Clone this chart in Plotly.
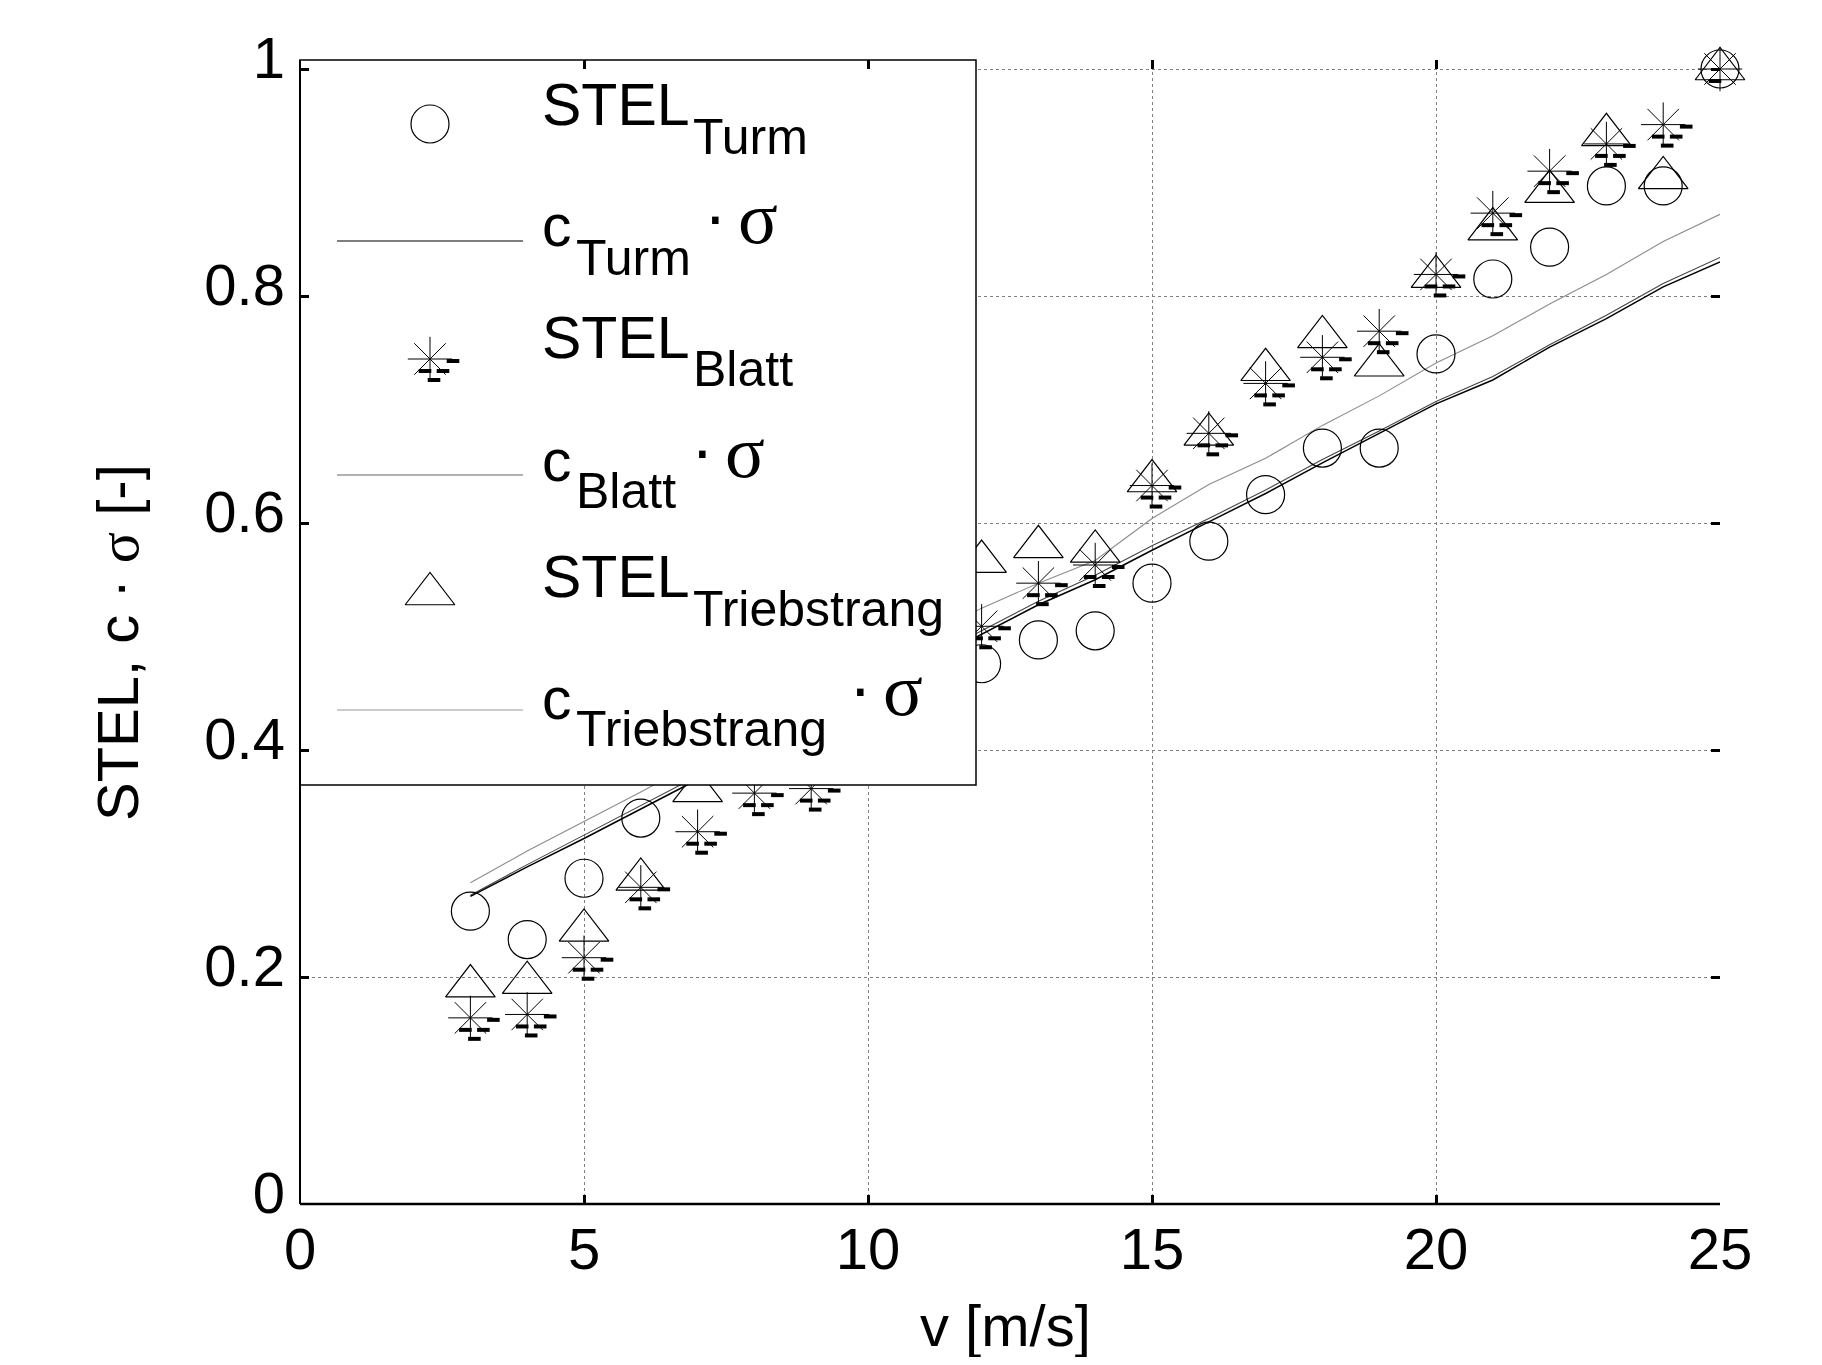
import plotly.graph_objects as go

# ---------------- data ----------------
v = [3, 4, 5, 6, 7, 8, 9, 10, 11, 12, 13, 14, 15, 16, 17, 18, 19, 20, 21, 22, 23, 24, 25]

stel_turm = [0.258, 0.233, 0.287, 0.340, 0.39, 0.41, 0.43, 0.45, 0.46, 0.476, 0.497, 0.505,
             0.547, 0.584, 0.625, 0.666, 0.666, 0.749, 0.815, 0.843, 0.897, 0.897, 1.0]
stel_blatt = [0.164, 0.167, 0.217, 0.279, 0.328, 0.362, 0.366, 0.43, 0.47, 0.509, 0.547, 0.563,
              0.633, 0.679, 0.723, 0.746, 0.769, 0.819, 0.873, 0.910, 0.934, 0.951, 1.0]
stel_trieb = [0.192, 0.195, 0.241, 0.286, 0.364, 0.40, 0.42, 0.47, 0.52, 0.566, 0.579, 0.575,
              0.637, 0.678, 0.735, 0.764, 0.739, 0.817, 0.859, 0.892, 0.942, 0.904, 1.0]

c_turm = [0.271, 0.297, 0.322, 0.348, 0.374, 0.399, 0.424, 0.450, 0.476, 0.502, 0.528, 0.550,
          0.576, 0.601, 0.626, 0.653, 0.679, 0.705, 0.726, 0.755, 0.780, 0.808, 0.830]
c_blatt = [0.272, 0.299, 0.325, 0.351, 0.377, 0.402, 0.427, 0.453, 0.479, 0.505, 0.531, 0.554,
           0.580, 0.604, 0.629, 0.656, 0.681, 0.707, 0.729, 0.757, 0.783, 0.811, 0.834]
c_trieb = [0.283, 0.311, 0.337, 0.363, 0.390, 0.417, 0.444, 0.471, 0.498, 0.525, 0.547, 0.567,
           0.604, 0.634, 0.657, 0.686, 0.712, 0.741, 0.765, 0.793, 0.819, 0.848, 0.872]

x_ticks = [0, 5, 10, 15, 20, 25]
y_ticks = [0, 0.2, 0.4, 0.6, 0.8, 1]
y_ticktext = ["0", "0.2", "0.4", "0.6", "0.8", "1"]

# ---------------- layout geometry (page pixel coordinates) ----------------
W, H = 1822, 1365
BODY = 8                      # default page body margin of the html file
FW, FH = W - 2 * BODY, H - 2 * BODY
PL, PR, PT, PB = 300, 1720, 60, 1204
PX_PER_Y = 1135.0
Y_TOP = (PB - PT) / PX_PER_Y
X_MAX = 25.0
FONT = "Liberation Sans"
SERIF = "Liberation Serif"


def fx(xp):
    return (xp - PL) / (PR - PL)


def fy(yp):
    return (PB - yp) / (PB - PT)


# pixel offsets of the small black dashes drawn next to each asterisk marker
DASH_OFFSETS = [(23, 2), (-5, 12), (13, 12), (4, 21)]

fig = go.Figure()

# model lines
fig.add_trace(go.Scatter(x=v, y=c_trieb, mode="lines", line=dict(color="#8c8c8c", width=1.1), hoverinfo="skip"))
fig.add_trace(go.Scatter(x=v, y=c_blatt, mode="lines", line=dict(color="#444444", width=1.1), hoverinfo="skip"))
fig.add_trace(go.Scatter(x=v, y=c_turm, mode="lines", line=dict(color="#000000", width=1.5), hoverinfo="skip"))

# markers
fig.add_trace(go.Scatter(x=v, y=stel_turm, mode="markers", cliponaxis=False,
                         marker=dict(symbol="circle-open", size=38, color="black", line=dict(width=1.2))))
fig.add_trace(go.Scatter(x=v, y=stel_trieb, mode="markers", cliponaxis=False,
                         marker=dict(symbol="triangle-up-open", size=43, color="black", line=dict(width=1.2))))
fig.add_trace(go.Scatter(x=v, y=stel_blatt, mode="markers", cliponaxis=False,
                         marker=dict(symbol="asterisk-open", size=37, color="black", line=dict(width=1))))
for dx, dy in DASH_OFFSETS:
    fig.add_trace(go.Scatter(
        x=[xv + dx * X_MAX / (PR - PL) for xv in v],
        y=[yv - dy / PX_PER_Y for yv in stel_blatt],
        mode="markers", cliponaxis=False, hoverinfo="skip",
        marker=dict(symbol="line-ew-open", size=9, color="black", line=dict(width=4, color="black"))))

# ---------------- legend (overlay axes in plot-fraction units) ----------------
LEG_R, LEG_B = 976, 785
fig.add_trace(go.Scatter(x=[0, 0, fx(LEG_R), fx(LEG_R), 0], y=[fy(LEG_B), 1, 1, fy(LEG_B), fy(LEG_B)],
                         xaxis="x2", yaxis="y2", mode="lines", fill="toself", fillcolor="white",
                         line=dict(width=0, color="white"), hoverinfo="skip"))

sym_x = fx(430)
fig.add_trace(go.Scatter(x=[sym_x], y=[fy(124)], xaxis="x2", yaxis="y2", mode="markers",
                         marker=dict(symbol="circle-open", size=38, color="black", line=dict(width=1.2))))
fig.add_trace(go.Scatter(x=[sym_x], y=[fy(359)], xaxis="x2", yaxis="y2", mode="markers",
                         marker=dict(symbol="asterisk-open", size=37, color="black", line=dict(width=1))))
for dx, dy in DASH_OFFSETS:
    fig.add_trace(go.Scatter(x=[fx(430 + dx)], y=[fy(359 + dy)], xaxis="x2", yaxis="y2", mode="markers",
                             marker=dict(symbol="line-ew-open", size=9, color="black",
                                         line=dict(width=4, color="black"))))
fig.add_trace(go.Scatter(x=[sym_x], y=[fy(594)], xaxis="x2", yaxis="y2", mode="markers",
                         marker=dict(symbol="triangle-up-open", size=43, color="black", line=dict(width=1.2))))
for ly, col, w in [(241, "#000000", 1.2), (475, "#666666", 1.2), (710, "#9a9a9a", 1.2)]:
    fig.add_trace(go.Scatter(x=[fx(337), fx(523)], y=[fy(ly), fy(ly)], xaxis="x2", yaxis="y2",
                             mode="lines", line=dict(color=col, width=w)))

annotations = []


def txt(text, left, base, size, family=FONT, anchor="left", center=None):
    asc_desc = 0.3465 if family == FONT else 0.3375
    yc = center if center is not None else base - asc_desc * size
    annotations.append(dict(text=text, x=fx(left), y=fy(yc), xref="paper", yref="paper",
                            xanchor=anchor, yanchor="middle", showarrow=False, borderpad=0,
                            font=dict(family=family, size=size, color="black")))


MAIN, SUB, SIG, DOT = 59, 50, 74, 68
rows = [
    ("STEL", "Turm", 125, 154, None),
    ("c", "Turm", 246.5, 275, (715, 220.7, 740, 243)),
    ("STEL", "Blatt", 358.3, 386.7, None),
    ("c", "Blatt", 481.7, 508.3, (702, 455, 727, 476.7)),
    ("STEL", "Triebstrang", 597.3, 626, None),
    ("c", "Triebstrang", 719.3, 746.7, (860, 692.7, 885, 715)),
]
for main, sub, b_main, b_sub, extra in rows:
    txt(main, 541, b_main, MAIN)
    txt(sub, 692 if main == "STEL" else 575, b_sub, SUB)
    if extra:
        dot_x, dot_y, sig_x, sig_b = extra
        txt("·", dot_x, None, DOT, anchor="center", center=dot_y - 6)
        txt("σ", sig_x - 3, sig_b, SIG, family=SERIF)

# axis titles
annotations.append(dict(text="v [m/s]", x=fx(1005), y=fy(1325), xref="paper", yref="paper",
                        xanchor="center", yanchor="middle", showarrow=False,
                        font=dict(family=FONT, size=58, color="black")))
annotations.append(dict(text="STEL, c · <span style=\"font-family:'Liberation Serif'\">σ</span> [-]",
                        x=fx(118), y=fy(643), xref="paper", yref="paper", textangle=-90,
                        xanchor="center", yanchor="middle", showarrow=False,
                        font=dict(family=FONT, size=58, color="black")))

axis_common = dict(showgrid=True, gridcolor="#808080", griddash="dot", gridwidth=1,
                   showline=False, zeroline=False, ticks="inside", ticklen=9, tickwidth=3,
                   tickcolor="black", mirror="ticks",
                   tickfont=dict(family=FONT, size=58, color="black"))

fig.update_layout(
    width=FW, height=FH,
    margin=dict(l=PL - BODY, r=BODY + FW - PR, t=PT - BODY, b=BODY + FH - PB, pad=0),
    paper_bgcolor="white", plot_bgcolor="white",
    showlegend=False,
    font=dict(family=FONT, size=58, color="black"),
    xaxis=dict(range=[0, X_MAX], tickvals=x_ticks, ticktext=[str(t) for t in x_ticks],
               ticklabelstandoff=6, **axis_common),
    yaxis=dict(range=[0, Y_TOP], tickvals=y_ticks, ticktext=y_ticktext,
               ticklabelstandoff=14, ticklabelshift=-11, **axis_common),
    xaxis2=dict(overlaying="x", anchor="y2", range=[0, 1], visible=False, fixedrange=True),
    yaxis2=dict(overlaying="y", anchor="x2", range=[0, 1], visible=False, fixedrange=True),
    annotations=annotations,
    shapes=[
        dict(type="line", xref="paper", yref="paper", x0=0, x1=0, y0=0, y1=1,
             line=dict(color="black", width=2), layer="above"),
        dict(type="line", xref="paper", yref="paper", x0=0, x1=1, y0=0, y1=0,
             line=dict(color="black", width=2.5), layer="above"),
        dict(type="rect", xref="paper", yref="paper", x0=0, x1=fx(LEG_R), y0=fy(LEG_B), y1=1,
             line=dict(color="black", width=1.5), fillcolor="rgba(0,0,0,0)", layer="above"),
    ],
)

fig.write_html("out.html")
